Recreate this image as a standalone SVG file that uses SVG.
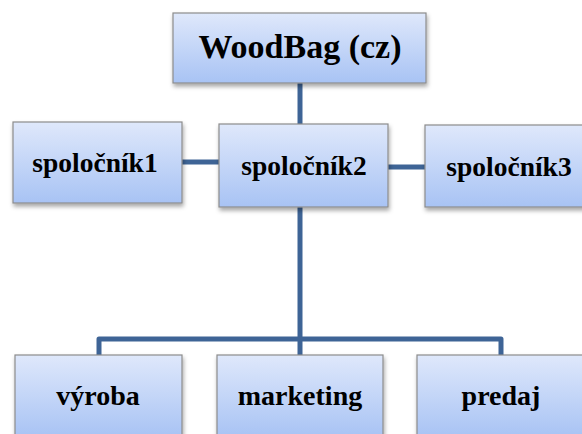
<svg xmlns="http://www.w3.org/2000/svg" width="582" height="434" viewBox="0 0 582 434">
<defs>
<linearGradient id="g" x1="0" y1="0" x2="0" y2="1">
<stop offset="0" stop-color="#dfe8fb"/>
<stop offset="1" stop-color="#a8c3f4"/>
</linearGradient>
<filter id="sh" x="-10%" y="-10%" width="120%" height="130%">
<feDropShadow dx="1" dy="3" stdDeviation="2" flood-color="#000" flood-opacity="0.35"/>
</filter>
</defs>
<style>
.box{fill:url(#g);stroke:#8c8c8c;stroke-width:1.2;filter:url(#sh)}
.t{font-family:"Liberation Serif","Times New Roman",serif;font-weight:bold;fill:#000;text-anchor:middle}
.c{fill:none;stroke:#3e6496;stroke-width:5;stroke-linejoin:round}
</style>
<rect width="582" height="434" fill="#fff"/>
<g id="connectors">
<line class="c" x1="300" y1="83" x2="300" y2="124"/>
<line class="c" x1="182" y1="162" x2="220" y2="162"/>
<line class="c" x1="387" y1="167" x2="425" y2="167"/>
<line class="c" x1="300" y1="207" x2="300" y2="355"/>
<path class="c" d="M99,355 V339 H501 V355"/>
</g>
<g id="woodbag">
<rect class="box" x="173" y="13" width="253" height="70"/>
<text class="t" x="300" y="58" font-size="34">WoodBag (cz)</text>
</g>
<g id="spolocnik1">
<rect class="box" x="13" y="122" width="169" height="81"/>
<text class="t" x="95" y="172" font-size="27.5">spoločník1</text>
</g>
<g id="spolocnik2">
<rect class="box" x="219" y="124" width="169" height="83"/>
<text class="t" x="304" y="175" font-size="27.5">spoločník2</text>
</g>
<g id="spolocnik3">
<rect class="box" x="425" y="125" width="168" height="82"/>
<text class="t" x="509" y="176" font-size="27.5">spoločník3</text>
</g>
<g id="vyroba">
<rect class="box" x="15" y="355" width="167" height="82"/>
<text class="t" x="98" y="405" font-size="28">výroba</text>
</g>
<g id="marketing">
<rect class="box" x="217" y="355" width="166" height="82"/>
<text class="t" x="300" y="405" font-size="28">marketing</text>
</g>
<g id="predaj">
<rect class="box" x="417" y="355" width="168" height="82"/>
<text class="t" x="501" y="405" font-size="28">predaj</text>
</g>
</svg>
